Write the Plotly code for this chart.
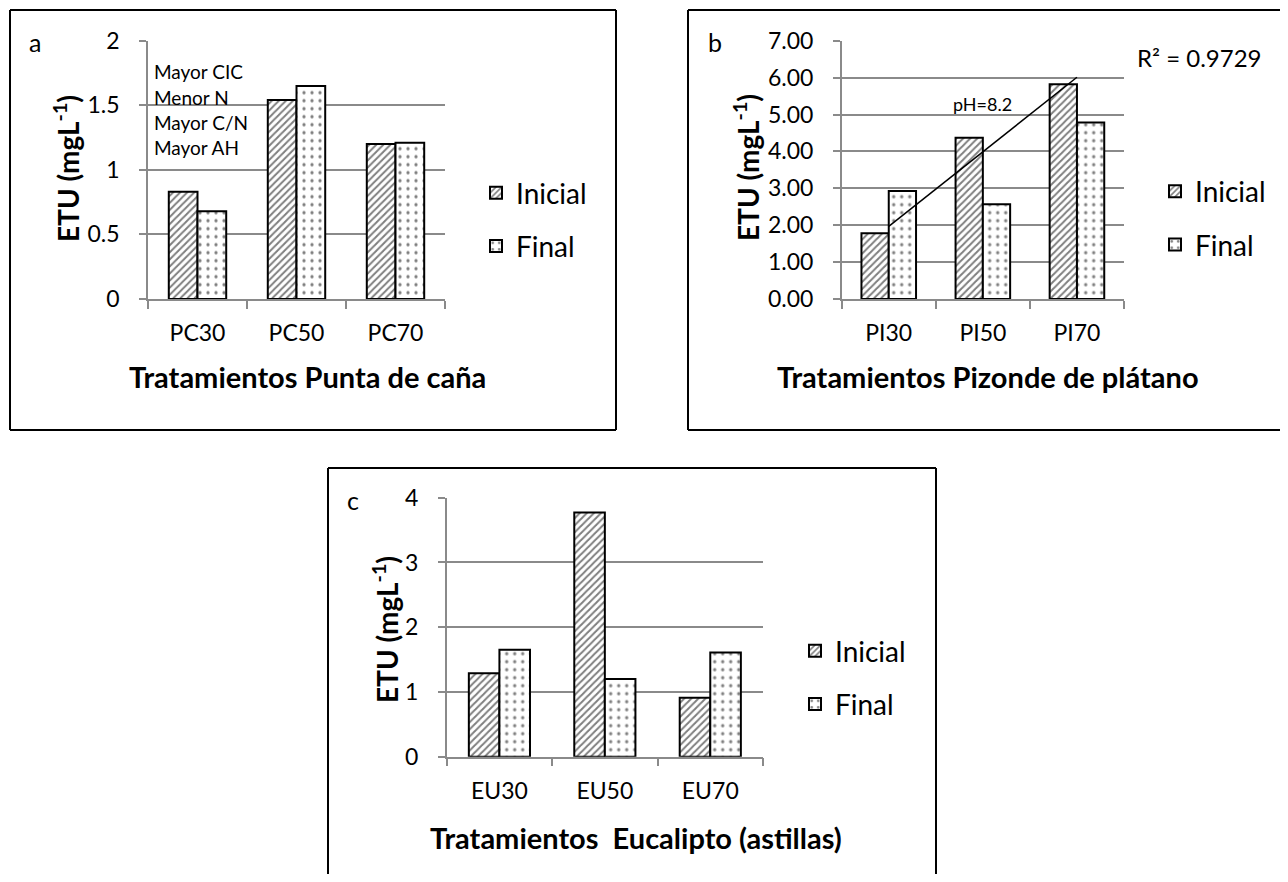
import numpy as np
import plotly.graph_objects as go

# page body has an 8px margin; the figure is sized so that it fills the window exactly
OFF = 8
W, H = 1288 - 2 * OFF, 882 - 2 * OFF
def fx(p): return (p - OFF) / W
def fy(p): return 1 - (p - OFF) / H

# ---- data ----
cat_a = ["PC30", "PC50", "PC70"]
ini_a = [0.83, 1.54, 1.20]
fin_a = [0.68, 1.65, 1.21]

cat_b = ["PI30", "PI50", "PI70"]
ini_b = [1.78, 4.37, 5.82]
fin_b = [2.93, 2.57, 4.78]

cat_c = ["EU30", "EU50", "EU70"]
ini_c = [1.29, 3.77, 0.91]
fin_c = [1.65, 1.20, 1.61]

series_names = ["Inicial", "Final"]
notes_a = ["Mayor CIC", "Menor N", "Mayor C/N", "Mayor AH"]
r2_label = "R² = 0.9729"
ph_label = "pH=8.2"

FONT = "Lato"
GRID = "#8a8a8a"

fig = go.Figure()

hatch = dict(shape="/", fgcolor="black", bgcolor="white", size=5, solidity=0.4)
dots = dict(shape=".", fgcolor="black", bgcolor="white", size=8, solidity=0.13)

panels = [
    (cat_a, ini_a, fin_a, "x", "y", "legend"),
    (cat_b, ini_b, fin_b, "x2", "y2", "legend2"),
    (cat_c, ini_c, fin_c, "x3", "y3", "legend3"),
]
for i, (cats, ini, fin, xa, ya, lg) in enumerate(panels):
    fig.add_trace(go.Bar(x=cats, y=ini, name=series_names[0], xaxis=xa, yaxis=ya,
                         legend=lg, legendgroup=f"i{i}",
                         marker=dict(color="white", pattern=hatch,
                                     line=dict(color="black", width=2))))
    fig.add_trace(go.Bar(x=cats, y=fin, name=series_names[1], xaxis=xa, yaxis=ya,
                         legend=lg, legendgroup=f"f{i}",
                         marker=dict(color="white", pattern=dots,
                                     line=dict(color="black", width=2))))

# linear trend of Inicial in panel b
xi = np.arange(len(ini_b))
coef = np.polyfit(xi, ini_b, 1)
fig.add_trace(go.Scatter(x=[cat_b[0], cat_b[-1]], y=list(np.polyval(coef, [xi[0], xi[-1]])),
                         mode="lines", line=dict(color="black", width=1.5),
                         xaxis="x2", yaxis="y2", showlegend=False, hoverinfo="skip"))

tickfont = dict(family=FONT, size=23, color="black")

def xax(dom, anchor):
    return dict(domain=dom, anchor=anchor, type="category", showline=True, linecolor=GRID,
                linewidth=1.5, ticks="outside", tickson="boundaries", ticklen=8,
                tickcolor=GRID, tickwidth=1.5, tickfont=tickfont, showgrid=False,
                ticklabelstandoff=13, fixedrange=True, automargin=False)

def yax(dom, rng, dtick, fmt, anchor):
    return dict(domain=dom, anchor=anchor, range=rng, dtick=dtick, tickformat=fmt,
                showline=True, linecolor=GRID, linewidth=1.5, ticks="outside", ticklen=7,
                tickcolor=GRID, tickwidth=1.5, showgrid=True, gridcolor=GRID, gridwidth=1.5,
                zeroline=False, tickfont=tickfont, ticklabelstandoff=15, fixedrange=True,
                automargin=False)

ya_dom = [fy(299), fy(40.7)]
yc_dom = [fy(756.7), fy(497.7)]

legfont = dict(family=FONT, size=28, color="black")
def leg(xp, yp):
    return dict(x=fx(xp), y=fy(yp), xanchor="left", yanchor="middle", font=legfont,
                bgcolor="rgba(0,0,0,0)", traceorder="grouped", tracegroupgap=14)

fig.update_layout(
    width=W, height=H, margin=dict(l=0, r=0, t=0, b=0, pad=0, autoexpand=False),
    paper_bgcolor="white", plot_bgcolor="white",
    barmode="group", bargap=0.42, bargroupgap=0,
    xaxis=xax([fx(148), fx(445)], "y"),
    xaxis2=xax([fx(841.7), fx(1124)], "y2"),
    xaxis3=xax([fx(446.7), fx(763)], "y3"),
    yaxis=yax(ya_dom, [0, 2], 0.5, "", "x"),
    yaxis2=yax(ya_dom, [0, 7], 1, ".2f", "x2"),
    yaxis3=yax(yc_dom, [0, 4], 1, "", "x3"),
    legend=leg(476, 219.5), legend2=leg(1155, 218), legend3=leg(795, 677.5),
    font=dict(family=FONT, color="black"),
)

anns = []
def ann(text, x, y, size, bold=False, xanchor="center", angle=0):
    anns.append(dict(text=(f"<b>{text}</b>" if bold else text), x=fx(x), y=fy(y),
                     xref="paper", yref="paper", showarrow=False, xanchor=xanchor,
                     yanchor="middle", textangle=angle,
                     font=dict(family=FONT, size=size, color="black")))

ytitle = "ETU (mgL<sup>-1</sup>)"
# panel a
ann("a", 35, 42, 25)
ann(ytitle, 66, 168, 28, bold=True, angle=-90)
ann("Tratamientos Punta de caña", 307, 377, 29, bold=True)
for k, t in enumerate(notes_a):
    ann(t, 152, 72 + k * 25.3, 19, xanchor="left")
# panel b
ann("b", 715, 42, 25)
ann(ytitle, 746, 168, 28, bold=True, angle=-90)
ann("Tratamientos Pizonde de plátano", 988, 377, 29, bold=True)
ann(ph_label, 982, 104, 18)
ann(r2_label, 1199, 58, 24)
# panel c
ann("c", 353, 500, 25)
ann(ytitle, 385, 630, 28, bold=True, angle=-90)
ann("Tratamientos  Eucalipto (astillas)", 636, 837, 29, bold=True)
fig.update_layout(annotations=anns)

shapes = []
def seg(x0, y0, x1, y1):
    shapes.append(dict(type="line", xref="paper", yref="paper", x0=fx(x0), x1=fx(x1),
                       y0=fy(y0), y1=fy(y1), line=dict(color="black", width=2)))
# panel a frame
seg(10, 10, 616, 10); seg(10, 430, 616, 430); seg(10, 10, 10, 430); seg(616, 10, 616, 430)
# panel b frame (right side runs off the picture)
seg(688, 10, 1290, 10); seg(688, 430, 1290, 430); seg(688, 10, 688, 430)
# panel c frame (bottom runs off the picture)
seg(328, 468, 936, 468); seg(328, 468, 328, 890); seg(936, 468, 936, 890)
fig.update_layout(shapes=shapes)

fig.write_html("out.html")
